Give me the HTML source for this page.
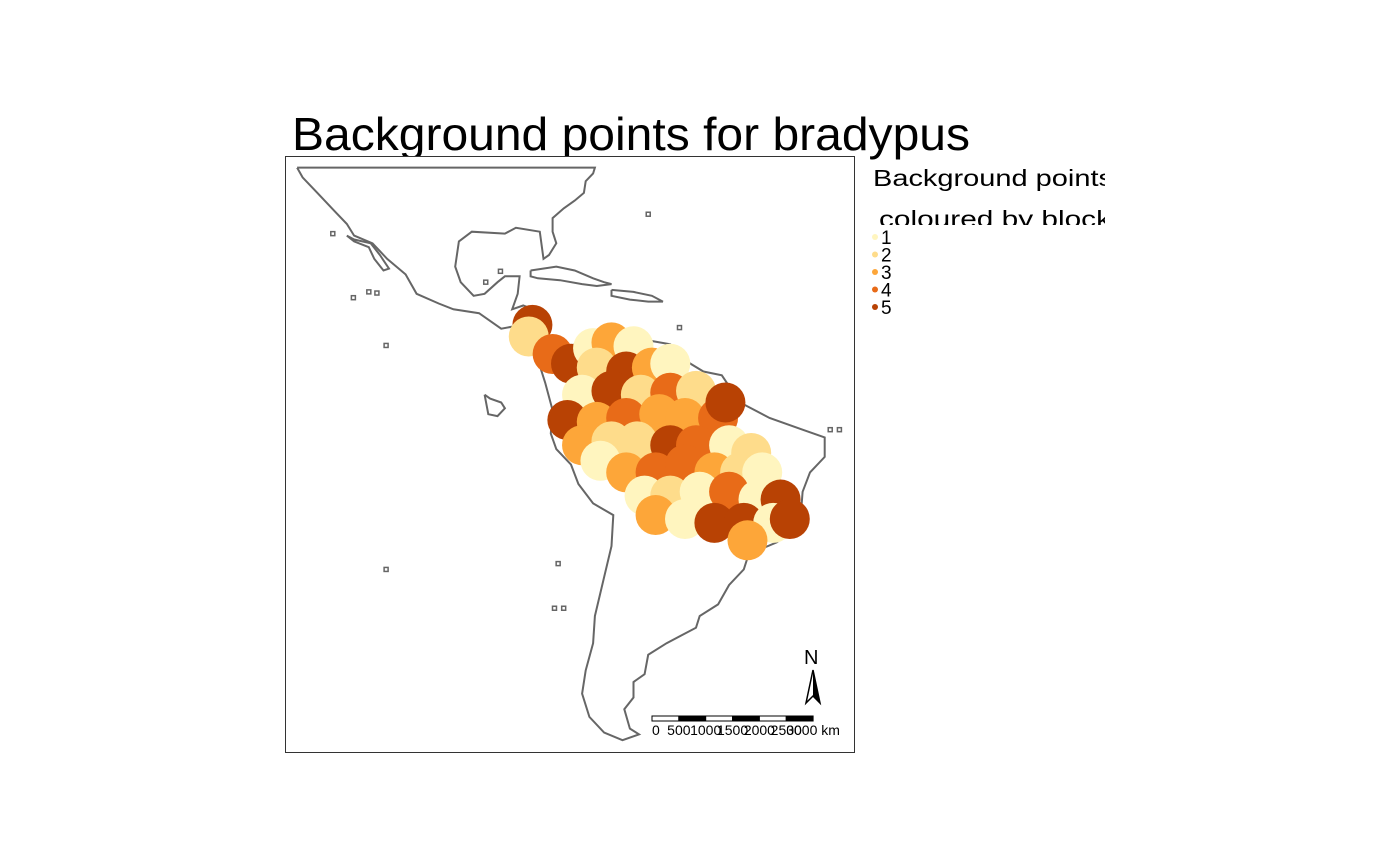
<!DOCTYPE html>
<html><head><meta charset="utf-8">
<style>
html,body{margin:0;padding:0;background:#fff;}
svg{display:block;font-family:"Liberation Sans",Arial,sans-serif;}
</style></head>
<body>
<svg id="chart" width="1400" height="866" viewBox="0 0 1400 866" xmlns="http://www.w3.org/2000/svg">
<text x="292" y="150" font-size="46" textLength="678" lengthAdjust="spacingAndGlyphs" fill="#000">Background points for bradypus</text>
<rect x="285.5" y="156.5" width="569" height="596" fill="#fff" stroke="#333" stroke-width="1"/>
<g id="coast"></g>
<g id="points"></g>
<g>
<clipPath id="lc1"><rect x="860" y="160" width="245" height="40"/></clipPath>
<clipPath id="lc2"><rect x="860" y="200" width="245" height="25"/></clipPath>
<text clip-path="url(#lc1)" x="873" y="186" font-size="23" textLength="240" lengthAdjust="spacingAndGlyphs">Background points</text>
<text clip-path="url(#lc2)" x="879" y="227" font-size="23" textLength="232" lengthAdjust="spacingAndGlyphs">coloured by block</text>
<g id="legend-items"></g>
</g>
<g>
<text x="804" y="664" font-size="20">N</text>
<path d="M813,670 L806,703 L813,696 L820,703 Z" fill="#fff" stroke="#000" stroke-width="1.5"/>
<path d="M813,670 L813,696 L820,703 Z" fill="#000"/>
</g>
<g id="scalebar"></g>
</svg>
<script>
// block data: easting / northing (km) of each background-point block and its block id
const blockE = [4602,4534,4978,5320,5730,6072,6482,5799,6346,6824,7166,5525,6072,6619,7166,7645,5252,5799,6346,6961,7440,8055,8192,5525,6072,6551,7166,7645,8260,8671,5867,6346,6893,7440,7987,8465,8876,6688,7166,7713,8260,8807,9218,6893,7440,7987,8534,9081,8602,9389];
const blockN = [7963,7747,7422,7241,7530,7638,7566,7169,7097,7169,7241,6664,6736,6664,6700,6736,6194,6158,6231,6303,6231,6231,6519,5725,5797,5797,5725,5725,5725,5581,5436,5220,5220,5364,5220,5220,5220,4787,4787,4859,4859,4714,4714,4426,4353,4281,4281,4281,3956,4353];
const blockId = [5,2,4,5,1,3,1,2,5,3,1,1,5,2,4,2,5,3,4,3,3,4,5,3,2,2,5,4,1,2,1,3,4,4,3,2,1,1,2,1,4,1,5,3,1,5,5,1,3,5];
const legendLabels = ["1","2","3","4","5"];
const scaleTicks = [0,500,1000,1500,2000,2500,3000];

const colors = {1:"#FFF5BF",2:"#FEDC8B",3:"#FDA639",4:"#E86B18",5:"#B84204"};
const KM = 18.6;
const xS = e => 285 + e / KM;
const yS = n => 753 - n / KM;
const NS = "http://www.w3.org/2000/svg";
function mk(tag, attrs, parent){const el=document.createElementNS(NS,tag);for(const k in attrs)el.setAttribute(k,attrs[k]);parent.appendChild(el);return el;}
const zx = v => 285 + (v - 12) / 2.72;
const zy = v => 156 + (v - 15) / 2.576;

// coastline basemap (traced geometry)
const coastZ = [[45,45],[855,45],[850,60],[830,80],[825,110],[800,130],[770,150],[740,175],[740,210],[750,240],[730,270],[715,280],[705,210],[640,200],[610,215],[520,210],[485,235],[475,300],[490,340],[525,375],[555,370],[590,340],[610,325],[650,325],[645,370],[630,410],[660,400],[700,415],[705,430],[690,445],[660,450],[660,500],[690,520],[740,520],[800,500],[850,480],[910,465],[1000,490],[1060,500],[1080,530],[1150,570],[1200,580],[1250,650],[1330,690],[1420,720],[1480,740],[1480,790],[1440,830],[1420,880],[1415,940],[1400,970],[1350,1010],[1300,1030],[1270,1050],[1260,1080],[1220,1120],[1190,1170],[1140,1200],[1130,1230],[1050,1270],[1000,1300],[990,1350],[960,1370],[960,1410],[935,1440],[950,1490],[975,1505],[930,1520],[880,1500],[840,1460],[820,1400],[830,1340],[850,1270],[855,1200],[880,1100],[900,1020],[905,940],[850,910],[810,860],[790,810],[750,770],[735,730],[740,670],[720,600],[700,540],[660,500],[655,450],[600,460],[540,420],[470,410],[430,395],[370,370],[340,320],[290,280],[250,240],[200,220],[180,190],[150,160],[100,110],[60,70],[45,45]];
const baja=[[180,220],[200,230],[245,240],[270,270],[295,305],[280,310],[255,280],[240,250],[200,235],[180,220]];
const cuba=[[680,310],[750,300],[800,310],[850,330],[880,340],[900,345],[860,350],[820,345],[760,335],[700,330],[680,325],[680,310]];
const hisp=[[900,360],[960,365],[1010,375],[1040,390],[1000,390],[950,385],[900,375],[900,360]];
const galap=[[555,630],[570,640],[600,650],[610,665],[590,685],[565,680],[555,630]];
const coast=document.getElementById('coast');
[coastZ,baja,cuba,hisp,galap].forEach(poly=>{
  const p=mk('polyline',{points:poly.map(q=>zx(q[0]).toFixed(1)+','+zy(q[1]).toFixed(1)).join(' '),fill:'none',stroke:'#666','stroke-width':2,'stroke-linejoin':'miter'},coast);
  
  
});
[[1000,165],[287,503],[287,1080],[198,380],[240,365],[262,368],[755,1065],[745,1180],[770,1180],[1495,720],[1520,720],[1085,457],[558,340],[598,312],[142,215]].forEach(q=>{
  const r=mk('rect',{x:zx(q[0])-2,y:zy(q[1])-2,width:4,height:4,fill:'none',stroke:'#666','stroke-width':1.5},coast);
  
  
});

// points
const pts=document.getElementById('points');
for(let i=0;i<blockE.length;i++){
  const c=mk('circle',{cx:xS(blockE[i]),cy:yS(blockN[i]),r:20,fill:colors[blockId[i]]},pts);
  
  
}

// legend items
const li=document.getElementById('legend-items');
legendLabels.forEach((l,i)=>{
  const y=237+i*17.5;
  const d=mk('circle',{cx:875,cy:y,r:3,fill:colors[i+1]},li);
  
  
  const t=mk('text',{x:881,y:y+7,'font-size':19},li);
  t.textContent=l;
  
  
});

// scale bar
const sb=document.getElementById('scalebar');
const sx=km=>652+km*0.0537;
for(let i=0;i<scaleTicks.length-1;i++){
  mk('rect',{x:sx(scaleTicks[i]),y:716,width:sx(scaleTicks[i+1])-sx(scaleTicks[i]),height:5,fill:i%2?'#000':'#fff',stroke:'#000','stroke-width':1},sb);
}
scaleTicks.forEach((k,i)=>{
  const t=mk('text',{x:sx(k),y:735,'font-size':14,'text-anchor':i===0?'start':'middle'},sb);
  t.textContent=String(k)+(i===scaleTicks.length-1?' km':'');
  
  
});
</script>
</body></html>
